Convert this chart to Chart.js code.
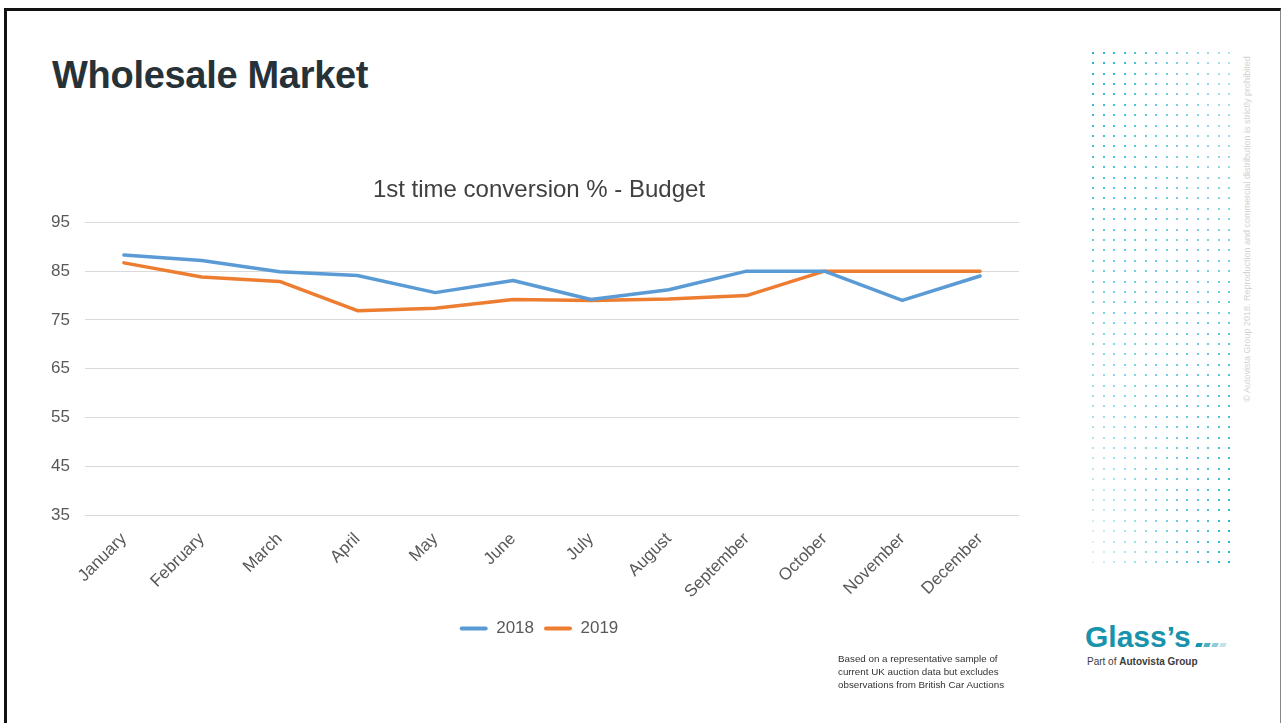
<!DOCTYPE html>
<html>
<head>
<meta charset="utf-8">
<title>Wholesale Market</title>
<script src="https://cdn.jsdelivr.net/npm/chart.js@4.4.1/dist/chart.umd.min.js"></script>
<style>
  body { margin: 0; background: #fff; font-family: 'Liberation Sans', Arial, sans-serif; }
  #page { position: relative; width: 1282px; height: 723px; overflow: hidden; background: #fff; }
  #frame { position: absolute; left: 4px; top: 8px; width: 1273px; height: 730px;
           border-top: 3px solid #111; border-left: 3px solid #111; border-right: 1px solid #888; }
  #heading { position: absolute; left: 52px; top: 56px; font-size: 38px; line-height: 38px;
             font-weight: bold; color: #263238; letter-spacing: -0.3px; white-space: nowrap; }
  #chart-box { position: absolute; left: 0; top: 0; width: 1040px; height: 723px; }
  #dots { position: absolute; left: 1088px; top: 48px; }
  #copyright { position: absolute; left: 1067px; top: 223px; width: 360px; height: 12px; line-height: 12px;
               font-size: 9px; color: #d3d3d3; text-align: center; white-space: nowrap; transform: rotate(-90deg); }
  #logo { position: absolute; left: 1085px; top: 622px; font-size: 30px; line-height: 30px; font-weight: bold;
          color: #1893ab; white-space: nowrap; }
  .dash { position: absolute; top: 643px; width: 6px; height: 4px; transform: skewX(-20deg); }
  #part { position: absolute; left: 1087px; top: 656px; font-size: 10px; line-height: 12px; color: #3c3c3c; white-space: nowrap; }
  #note { position: absolute; left: 838px; top: 653px; font-size: 9.8px; line-height: 12.8px; color: #333; white-space: nowrap; }
</style>
</head>
<body>
<div id="page">
  <div id="frame"></div>
  <div id="heading">Wholesale Market</div>
  <canvas id="dots" width="150" height="520"></canvas>
  <div id="copyright">© Autovista Group 2018. Reproduction and commercial distribution is strictly prohibited</div>
  <div id="chart-box"><canvas id="conv-chart"></canvas></div>
  <div id="logo">Glass’s</div>
  <div class="dash" style="left:1196px; background:#1893ab;"></div>
  <div class="dash" style="left:1204px; background:#52b0c5;"></div>
  <div class="dash" style="left:1212px; background:#8ccbd9;"></div>
  <div class="dash" style="left:1220px; background:#c3e3ea;"></div>
  <div id="part">Part of <b>Autovista Group</b></div>
  <div id="note">Based on a representative sample of<br>current UK auction data but excludes<br>observations from British Car Auctions</div>
</div>

<script>
// chart data
var months = ['January', 'February', 'March', 'April', 'May', 'June',
              'July', 'August', 'September', 'October', 'November', 'December'];
var conv2018 = [88.3, 87.2, 84.9, 84.1, 80.6, 83.1, 79.2, 81.2, 85.0, 85.0, 79.0, 84.0];
var conv2019 = [86.7, 83.8, 82.9, 76.9, 77.4, 79.2, 79.0, 79.3, 80.0, 85.0, 85.0, 85.0];
var yTicks = [35, 45, 55, 65, 75, 85, 95];

// dotted decoration on the right
function drawDots() {
    var c = document.getElementById('dots').getContext('2d');
    var cols = 14, rows = 50;
    for (var r = 0; r < rows; r++) {
        for (var k = 0; k < cols; k++) {
            var t = r / (rows - 1), f = k / (cols - 1);
            var a = (1 - t) * (1 - 0.65 * f) + t * (0.15 + 0.85 * f);
            c.fillStyle = 'rgba(32, 178, 208, ' + a.toFixed(3) + ')';
            var x = 5.3 + k * 10.46, y = 4.7 + r * 10.4;
            c.fillRect(Math.round(x) - 1, Math.round(y) - 1, 2, 2);
        }
    }
}

// title and legend are centred on the whole chart object, a bit right of the padded box
var shiftBlocks = {
    id: 'shiftBlocks',
    afterLayout: function(chart) {
        [chart.titleBlock, chart.legend].forEach(function(b) {
            if (b) { b.left += 7; b.right += 7; }
        });
    }
};

function loadChart() {
    var ctx = document.getElementById('conv-chart');
    var tickColor = '#595959';
    var fontFamily = "'Liberation Sans', Arial, sans-serif";

    var myChart = new Chart(ctx, {
        type: 'line',
        data: {
            labels: months,
            datasets: [{
                label: '2018',
                data: conv2018,
                borderColor: '#5b9bd5',
                backgroundColor: '#5b9bd5',
                borderWidth: 3.5,
                pointRadius: 0,
                tension: 0,
                borderCapStyle: 'round',
                borderJoinStyle: 'round'
            }, {
                label: '2019',
                data: conv2019,
                borderColor: '#ed7d31',
                backgroundColor: '#ed7d31',
                borderWidth: 3.5,
                pointRadius: 0,
                tension: 0,
                borderCapStyle: 'round',
                borderJoinStyle: 'round'
            }]
        },
        plugins: [shiftBlocks],
        options: {
            responsive: true,
            maintainAspectRatio: false,
            animation: false,
            layout: { padding: { left: 45, right: 21, top: 0, bottom: 76 } },
            plugins: {
                title: {
                    display: true,
                    text: '1st time conversion % - Budget',
                    color: '#404040',
                    font: { family: fontFamily, size: 24, weight: 'normal' },
                    padding: { top: 175.6, bottom: 18 }
                },
                legend: {
                    position: 'bottom',
                    labels: {
                        color: tickColor,
                        font: { family: fontFamily, size: 17 },
                        boxWidth: 28,
                        boxHeight: 4,
                        padding: 10,
                        generateLabels: function(chart) {
                            var items = Chart.defaults.plugins.legend.labels.generateLabels(chart);
                            items.forEach(function(it) { it.lineWidth = 0; it.borderRadius = 2; });
                            return items;
                        }
                    }
                },
                tooltip: { enabled: false }
            },
            scales: {
                x: {
                    offset: true,
                    grid: { display: false },
                    border: { display: false },
                    ticks: {
                        color: tickColor,
                        font: { family: fontFamily, size: 17 },
                        minRotation: 45,
                        maxRotation: 45,
                        autoSkip: false,
                        padding: 6
                    },
                    afterFit: function(scale) { scale.height = 95; }
                },
                y: {
                    min: 35,
                    max: 95,
                    grid: { color: '#d9d9d9', lineWidth: 1, drawTicks: false },
                    border: { display: false },
                    ticks: {
                        color: tickColor,
                        font: { family: fontFamily, size: 17 },
                        padding: 15
                    },
                    afterBuildTicks: function(scale) {
                        scale.ticks = yTicks.map(function(v) { return { value: v }; });
                    },
                    afterFit: function(scale) { scale.width = 40; }
                }
            }
        }
    });
}

drawDots();
loadChart();
</script>
</body>
</html>
